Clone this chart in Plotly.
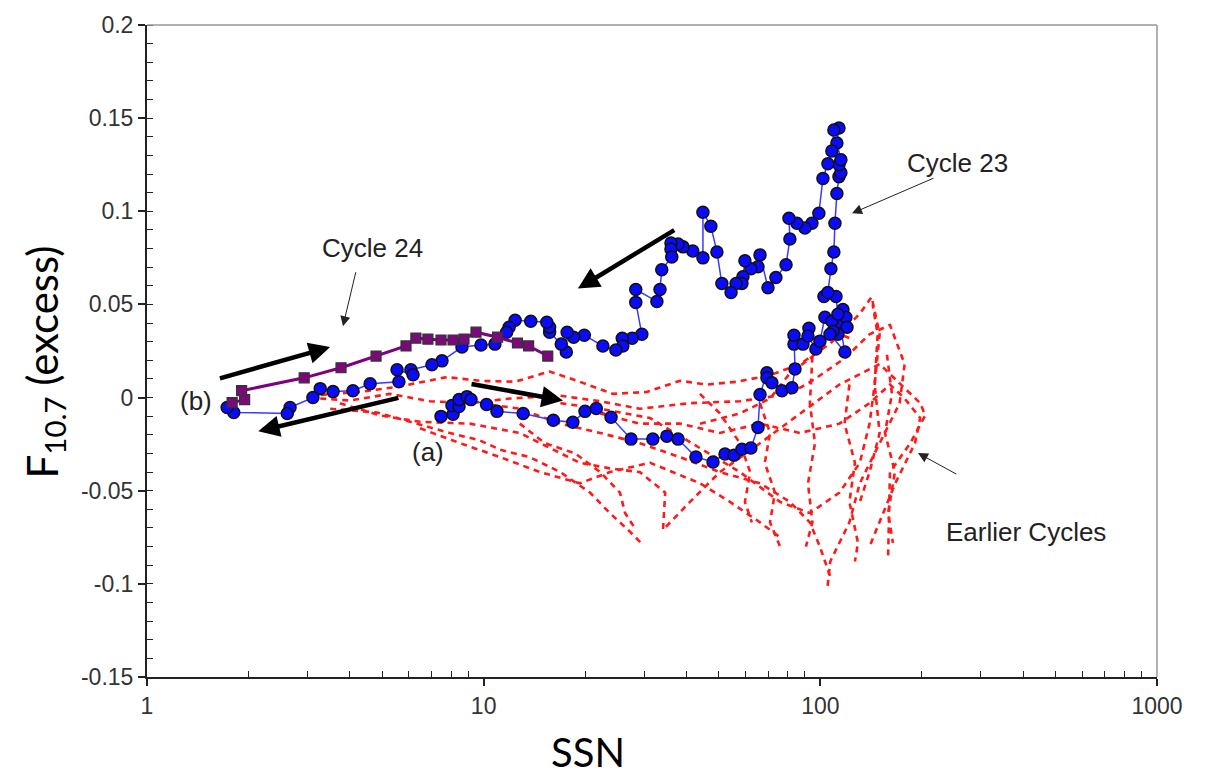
import math
import plotly.graph_objects as go

# ---------------- data ----------------
cycle23_ssn = [7.47, 8.11, 8.05, 8.45, 8.45, 8.92, 9.17, 10.2, 10.95, 13.1,
               16.1, 18.4, 20.0, 21.6, 23.9, 27.4, 31.8, 35.0, 37.8, 42.7,
               48.0, 52.1, 55.4, 58.5, 62.2, 65.3, 66.2, 69.4, 69.4, 71.8,
               76.9, 82.4, 84.1, 83.5, 83.5, 88.8, 92.5, 91.9, 97.0, 99.7,
               103.2, 113.6, 108.2, 116.7, 119.1, 120.0, 112.8, 109.0, 106.8, 118.3,
               112.8, 111.3, 102.5, 105.3,
               107.5, 109.7, 110.5, 112.0, 113.6, 115.1, 113.6, 115.1, 112.0, 113.6,
               109.7, 108.2, 105.3, 101.8, 99.0, 94.4, 90.0, 85.2, 80.7, 81.2,
               79.1, 73.8, 69.9, 66.2, 65.3, 62.2, 59.7, 58.9, 58.5, 56.2,
               54.3, 51.0, 49.3, 47.3, 44.8, 44.8, 41.8, 39.1, 37.8, 36.0,
               36.0, 36.2, 33.8, 33.4, 32.7, 28.3, 28.3, 29.5, 27.6, 25.8,
               25.9, 24.7, 22.6, 19.9, 18.5, 17.7, 17.6, 17.0, 15.7, 15.7,
               15.4, 13.8, 12.4, 11.9, 11.7, 10.8, 9.82, 8.62, 7.52, 7.02,
               6.08, 6.17, 5.53, 5.60, 4.60, 4.09, 3.57, 3.27, 3.11, 2.66,
               2.61, 1.81, 1.73]
cycle23_f = [-0.0101, -0.0090, -0.0043, -0.0048, -0.0011, 0.0005, -0.0011, -0.0037, -0.0074, -0.0085,
             -0.0122, -0.0133, -0.0074, -0.0059, -0.0106, -0.0223, -0.0223, -0.0207, -0.0223, -0.0319,
             -0.0346, -0.0303, -0.0309, -0.0277, -0.0271, -0.0160, 0.0016, 0.0133, 0.0106, 0.0080,
             0.0037, 0.0053, 0.0154, 0.0287, 0.0335, 0.0287, 0.0372, 0.0330, 0.0261, 0.0303,
             0.0431, 0.0404, 0.0410, 0.0473, 0.0431, 0.0378, 0.0340, 0.0356, 0.0340, 0.0245,
             0.0447, 0.0543, 0.0543, 0.0564,
             0.0691, 0.0782, 0.0936, 0.1096, 0.1186, 0.1207, 0.1250, 0.1277, 0.1367, 0.1447,
             0.1436, 0.1324, 0.1255, 0.1176, 0.0989, 0.0936, 0.0910, 0.0936, 0.0963, 0.0851,
             0.0713, 0.0644, 0.0590, 0.0766, 0.0702, 0.0691, 0.0734, 0.0649, 0.0612, 0.0612,
             0.0564, 0.0612, 0.0782, 0.0920, 0.0995, 0.0750, 0.0787, 0.0809, 0.0824, 0.0830,
             0.0798, 0.0755, 0.0686, 0.0580, 0.0516, 0.0580, 0.0511, 0.0340, 0.0319, 0.0319,
             0.0277, 0.0255, 0.0277, 0.0335, 0.0324, 0.0351, 0.0245, 0.0287, 0.0351, 0.0378,
             0.0404, 0.0410, 0.0415, 0.0378, 0.0351, 0.0287, 0.0282, 0.0271, 0.0197, 0.0176,
             0.0149, 0.0122, 0.0149, 0.0085, 0.0074, 0.0037, 0.0032, 0.0048, 0.0, -0.0053,
             -0.0085, -0.0080, -0.0053]

cycle24_ssn = [1.79, 1.95, 1.91, 2.93, 3.77, 4.79, 5.88, 6.29, 6.83, 7.47,
               8.11, 8.74, 9.49, 11.0, 12.6, 13.6, 15.5]
cycle24_f = [-0.0027, -0.0011, 0.0037, 0.0106, 0.0160, 0.0223, 0.0277, 0.0319, 0.0314, 0.0309,
             0.0309, 0.0314, 0.0351, 0.0324, 0.0293, 0.0277, 0.0223]

# earlier cycles (red dashed), approximate traces
earlier1_ssn = [3.05, 4.29, 5.64, 7.78, 9.75, 12.4, 15.7, 19.3, 24.2, 30.5, 38.3, 46.0, 56.5,
                70.9, 87.0, 107, 131, 142, 150, 145, 150, 140, 131]
earlier1_f = [0.001, 0.003, 0.006, 0.011, 0.009, 0.0085, 0.014, 0.0085, 0.002, 0.003, 0.009, 0.007, 0.0085,
              0.012, 0.018, 0.029, 0.045, 0.054, 0.034, 0.007, -0.019, -0.040, -0.056]
earlier2_ssn = [3.27, 4.01, 5.27, 6.93, 9.11, 12.0, 16.9, 22.2, 29.1, 41.0, 57.7, 81.2,
                96.4, 118, 140, 161, 178, 172, 150, 131, 122, 107, 105]
earlier2_f = [-0.0005, -0.0016, 0.002, -0.002, -0.003, -0.0005, 0.001, -0.002, -0.006, -0.003, -0.002, 0.002,
              0.010, 0.021, 0.034, 0.039, 0.018, -0.003, -0.0245, -0.046, -0.067, -0.088, -0.102]
earlier3_ssn = [3.50, 4.82, 6.34, 7.94, 9.75, 11.2, 13.7, 16.9, 20.7, 23.7, 27.2, 29.7]
earlier3_f = [-0.006, -0.008, -0.014, -0.019, -0.023, -0.028, -0.032, -0.040, -0.051, -0.062, -0.072, -0.079]
earlier4_ssn = [3.74, 4.92, 6.47, 9.11, 12.8, 15.7, 19.3, 23.7, 29.1, 34.6, 34.1, 41.0, 50.3,
                66.2, 87.0, 114, 150, 198, 205, 185, 161, 159]
earlier4_f = [-0.003, -0.0096, -0.013, -0.014, -0.019, -0.027, -0.035, -0.038, -0.040, -0.051, -0.071, -0.056, -0.040,
              -0.0245, -0.0085, 0.007, 0.018, -0.003, -0.0096, -0.0245, -0.040, -0.085]
earlier5_ssn = [9.75, 12.8, 16.9, 22.2, 29.1, 38.3, 50.3, 66.2, 81.2, 93.1, 99.7, 107]
earlier5_f = [-0.003, -0.006, -0.014, -0.019, -0.0245, -0.032, -0.040, -0.046, -0.056, -0.067, -0.080, -0.096]
earlier6_ssn = [22.2, 29.1, 38.3, 50.3, 66.2, 87.0, 114, 140, 161, 178, 198, 191, 167, 150, 140]
earlier6_f = [-0.0085, -0.014, -0.014, -0.019, -0.014, -0.019, -0.014, -0.003, 0.007, -0.0005, -0.011, -0.0245,
              -0.046, -0.067, -0.080]
earlier7_ssn = [16.9, 22.2, 31.2, 43.9, 57.7, 75.9, 93.1, 114, 131, 140, 145, 148, 143]
earlier7_f = [-0.003, -0.006, -0.011, -0.027, -0.040, -0.056, -0.062, -0.051, -0.035, -0.014, 0.007, 0.034, 0.050]
earlier8_ssn = [6.47, 8.51, 11.2, 14.7, 19.3, 23.7, 31.2, 43.9, 53.9, 66.2, 75.9]
earlier8_f = [-0.0165, -0.0245, -0.032, -0.040, -0.046, -0.040, -0.035, -0.046, -0.056, -0.067, -0.075]
earlier9_ssn = [43.9, 57.7, 70.9, 81.2, 94.7, 103, 114, 126]
earlier9_f = [-0.014, -0.0085, -0.0005, 0.013, 0.022, 0.031, 0.034, 0.031]
earlier10_ssn = [94.7, 93.1, 96.4, 91.9, 94.7, 90.6]
earlier10_f = [0.022, -0.003, -0.0245, -0.046, -0.067, -0.080]
earlier11_ssn = [122, 118, 126.7, 122, 129.4, 126.7]
earlier11_f = [0.007, -0.014, -0.035, -0.056, -0.078, -0.088]
earlier12_ssn = [66.2, 70.9, 68.4, 73.3, 70.9, 75.9]
earlier12_f = [-0.003, -0.019, -0.035, -0.051, -0.067, -0.080]
earlier13_ssn = [157.7, 163.2, 155.6, 166.5, 159, 164.3]
earlier13_f = [0.023, 0.002, -0.019, -0.040, -0.062, -0.078]
earlier14_ssn = [43.9, 50.3, 57.7, 61.9, 59.7, 62.6]
earlier14_f = [0.002, -0.0085, -0.0245, -0.040, -0.056, -0.067]
earlier15_ssn = [12.8, 15.2, 18.7, 22.2, 25.4, 26.3, 28.1]
earlier15_f = [-0.014, -0.0245, -0.030, -0.040, -0.051, -0.062, -0.070]

x_ticks = [1, 10, 100, 1000]
x_ticktext = ["1", "10", "100", "1000"]
y_ticks = [0.2, 0.15, 0.1, 0.05, 0, -0.05, -0.1, -0.15]
y_ticktext = ["0.2", "0.15", "0.1", "0.05", "0", "-0.05", "-0.1", "-0.15"]

# ---------------- figure ----------------
fig = go.Figure()

earlier = [(earlier1_ssn, earlier1_f), (earlier2_ssn, earlier2_f), (earlier3_ssn, earlier3_f),
           (earlier4_ssn, earlier4_f), (earlier5_ssn, earlier5_f), (earlier6_ssn, earlier6_f),
           (earlier7_ssn, earlier7_f), (earlier8_ssn, earlier8_f), (earlier9_ssn, earlier9_f),
           (earlier10_ssn, earlier10_f), (earlier11_ssn, earlier11_f), (earlier12_ssn, earlier12_f),
           (earlier13_ssn, earlier13_f), (earlier14_ssn, earlier14_f), (earlier15_ssn, earlier15_f)]
for s, f in earlier:
    fig.add_trace(go.Scatter(x=s, y=f, mode="lines", showlegend=False, hoverinfo="skip",
                             line=dict(color="#ff1a1a", width=2.6, dash="6px,5px")))

fig.add_trace(go.Scatter(x=cycle23_ssn, y=cycle23_f, mode="lines+markers", showlegend=False,
                         line=dict(color="#3a3aff", width=1.5),
                         marker=dict(symbol="circle", size=12, color="#0a0aff",
                                     line=dict(color="#111111", width=1.5))))
fig.add_trace(go.Scatter(x=cycle24_ssn, y=cycle24_f, mode="lines+markers", showlegend=False,
                         line=dict(color="#800080", width=3),
                         marker=dict(symbol="square", size=10, color="#7a0a7a",
                                     line=dict(color="#333333", width=1.2))))

tickfont = dict(family="Liberation Sans, Arial, sans-serif", size=23, color="#333333")
minor_x = [m * 10 ** d for d in range(3) for m in range(2, 10)]

W, H = 1206, 779
ML, MR, MT, MB = 147, 49, 20, 102
fig.update_layout(
    width=W, height=H,
    margin=dict(l=ML, r=MR, t=MT, b=MB),
    paper_bgcolor="white", plot_bgcolor="white",
    xaxis=dict(type="log", range=[0, 3], showgrid=False, zeroline=False,
               showline=True, linecolor="#222222", linewidth=2, mirror=False,
               ticks="outside", ticklen=7, tickwidth=1.5, tickcolor="#222222",
               tickvals=x_ticks, ticktext=x_ticktext, tickfont=tickfont,
               ticklabeloverflow="allow",
               minor=dict(ticks="inside", ticklen=6, tickwidth=1, tickcolor="#222222",
                          tickvals=minor_x, showgrid=False)),
    yaxis=dict(range=[-0.15, 0.2], showgrid=False, zeroline=False,
               showline=True, linecolor="#222222", linewidth=2, mirror=False,
               ticks="outside", ticklen=7, tickwidth=1.5, tickcolor="#222222",
               tickvals=y_ticks, ticktext=y_ticktext, tickfont=tickfont,
               ticklabeloverflow="allow",
               minor=dict(ticks="inside", ticklen=6, tickwidth=1, tickcolor="#222222",
                          dtick=0.01, tick0=0, showgrid=False)),
    xaxis2=dict(type="log", range=[0, 3], overlaying="x", showgrid=False, zeroline=False,
                showline=False, ticks="inside", ticklen=7, tickwidth=1.5, tickcolor="#222222",
                tickvals=x_ticks, showticklabels=False),
    yaxis2=dict(range=[-0.15, 0.2], overlaying="y", showgrid=False, zeroline=False,
                showline=False, ticks="inside", ticklen=7, tickwidth=1.5, tickcolor="#222222",
                tickvals=y_ticks, showticklabels=False),
    shapes=[
        dict(type="line", xref="paper", yref="paper", x0=0, x1=1, y0=1, y1=1,
             line=dict(color="#999999", width=1.5)),
        dict(type="line", xref="paper", yref="paper", x0=1, x1=1, y0=0, y1=1,
             line=dict(color="#999999", width=1.5)),
    ],
)

L = math.log10
annots = []
# thick black arrows (head, tail)
thick = [((3.5, 0.0271), (1.63, 0.0101)),
         ((2.14, -0.0181), (5.64, 0.0)),
         ((17.2, -0.0016), (9.11, 0.0074)),
         ((19.05, 0.0585), (37.2, 0.0904))]
for (hx, hy), (tx, ty) in thick:
    annots.append(dict(x=L(hx), y=hy, ax=L(tx), ay=ty, xref="x", yref="y", axref="x", ayref="y",
                       text="", showarrow=True, arrowhead=2, arrowwidth=4.5, arrowsize=0.95,
                       arrowcolor="#000000", standoff=0, startstandoff=0))
# thin arrows
thin = [((3.82, 0.0383), (4.18, 0.0681)),
        ((124.2, 0.0989), (219, 0.1181)),
        ((195, -0.0298), (256, -0.0415))]
for (hx, hy), (tx, ty) in thin:
    annots.append(dict(x=L(hx), y=hy, ax=L(tx), ay=ty, xref="x", yref="y", axref="x", ayref="y",
                       text="", showarrow=True, arrowhead=2, arrowwidth=1, arrowsize=2,
                       arrowcolor="#222222", standoff=0, startstandoff=0))

labfont = dict(family="Liberation Sans, Arial, sans-serif", size=26, color="#222222")
labels = [("Cycle 23", 256, 0.1261), ("Cycle 24", 4.66, 0.0803), ("(b)", 1.40, -0.0021),
          ("(a)", 6.83, -0.0293), ("Earlier Cycles", 408, -0.0723)]
for t, x, y in labels:
    annots.append(dict(x=L(x), y=y, xref="x", yref="y", text=t, showarrow=False,
                       font=labfont, xanchor="center", yanchor="middle"))

pw = W - ML - MR
ph = H - MT - MB
titlefont = dict(family="Lato, Open Sans, sans-serif", size=42, color="#000000")
annots.append(dict(x=(45 - ML) / pw, y=(H - MB - 360) / ph, xref="paper", yref="paper",
                   text="F<sub>10.7</sub> (excess)", textangle=-90, showarrow=False,
                   font=titlefont, xanchor="center", yanchor="middle"))
annots.append(dict(x=(588 - ML) / pw, y=(H - MB - 753) / ph, xref="paper", yref="paper",
                   text="SSN", showarrow=False, font=dict(family="Lato, Open Sans, sans-serif",
                                                          size=40, color="#000000"),
                   xanchor="center", yanchor="middle"))
fig.update_layout(annotations=annots)

# remove the browser's default 8px page margin so the figure fills the window exactly
fig.write_html("out.html", config={"displayModeBar": False},
               post_script="document.body.style.margin='0';document.body.style.overflow='hidden';")
